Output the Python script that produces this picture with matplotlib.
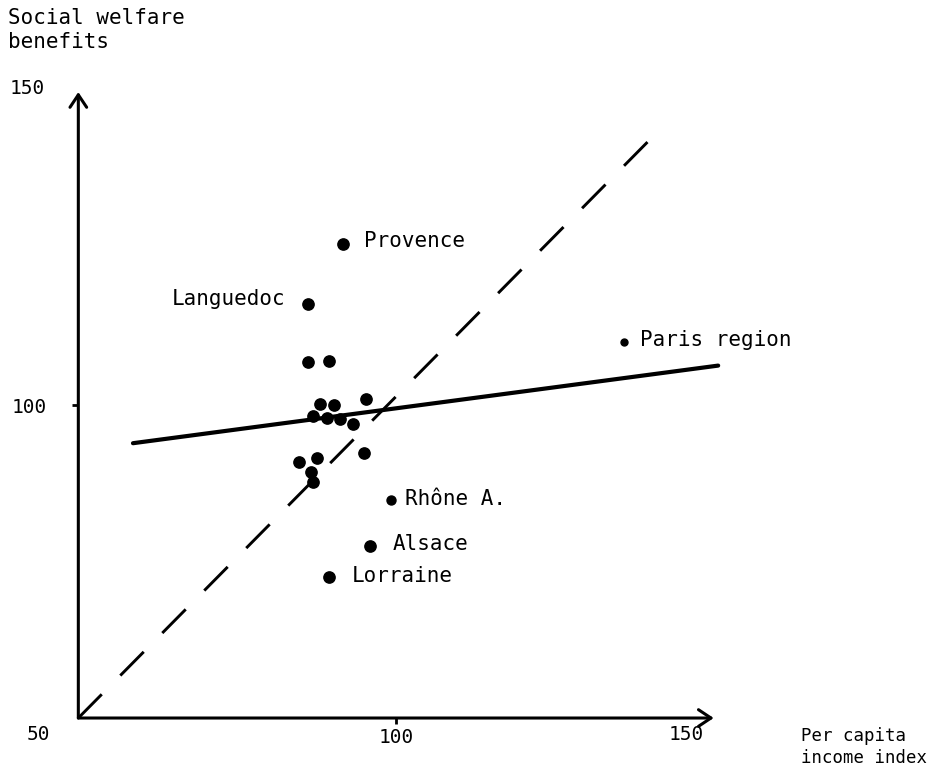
import matplotlib.pyplot as plt

plt.rcParams['font.family'] = ['DejaVu Sans Mono', 'DejaVu Sans']
plt.rcParams['lines.scale_dashes'] = False

# regions with a name printed next to them
named_regions = ['Provence', 'Languedoc', 'Paris region', 'Rhône A.', 'Alsace', 'Lorraine']
named_income = [91.7, 86.2, 135.9, 99.2, 95.9, 89.5]
named_welfare = [125.8, 116.2, 110.1, 84.8, 77.5, 72.5]

# remaining regions (unlabelled)
other_income = [86.2, 89.5, 88.0, 90.3, 95.3, 86.9, 89.1, 91.2, 93.3, 94.9, 84.8, 87.5, 86.6, 87.0]
other_welfare = [106.9, 107.1, 100.2, 100.0, 101.0, 98.2, 98.0, 97.7, 97.0, 92.4, 90.9, 91.5, 89.3, 87.7]

# fitted line and the equality diagonal
fit_x = [58.6, 150.7]
fit_y = [93.9, 106.3]
diag_x = [50, 142]
diag_y = [50, 144.5]

# label placement: (dx, dy) in points, alignment
label_style = {
    'Provence': (15, 2, 'left'),
    'Languedoc': (-16.5, 3, 'right'),
    'Paris region': (11.5, 1, 'left'),
    'Rhône A.': (10, 1, 'left'),
    'Alsace': (16, 1.5, 'left'),
    'Lorraine': (16, 1, 'left'),
}
dot_size = {'Paris region': 25, 'Rhône A.': 42}

fig = plt.figure(figsize=(9.28, 7.78), dpi=100)
ax = fig.add_axes([0.0844, 0.0771, 0.6847, 0.8046])
ax.set_xlim(50, 150)
ax.set_ylim(50, 150)
for s in ax.spines.values():
    s.set_visible(False)

# axes drawn as arrows
arrow = dict(arrowstyle='->,head_length=0.45,head_width=0.3', lw=2.2,
             color='black', shrinkA=0, shrinkB=0, mutation_scale=20)
ax.annotate('', xy=(150, 50), xytext=(50, 50), arrowprops=arrow, annotation_clip=False)
ax.annotate('', xy=(50, 150), xytext=(50, 50), arrowprops=arrow, annotation_clip=False)

ax.set_xticks([100])
ax.set_yticks([100])
ax.tick_params(length=4, width=2, labelsize=14, direction='out')
ax.tick_params(axis='x', pad=3)
ax.tick_params(axis='y', pad=19)
ax.text(43.7, 47.3, '50', fontsize=14, ha='center', va='center')
ax.text(145.7, 47.3, '150', fontsize=14, ha='center', va='center')
ax.text(41.9, 150.5, '150', fontsize=14, ha='center', va='center')

ax.plot(diag_x, diag_y, color='black', lw=2.1, dashes=(24, 19), clip_on=False)
ax.plot(fit_x, fit_y, color='black', lw=3, solid_capstyle='round', clip_on=False)

ax.scatter(other_income, other_welfare, s=66, color='black', zorder=3)
for name, x, y in zip(named_regions, named_income, named_welfare):
    ax.scatter([x], [y], s=dot_size.get(name, 66), color='black', zorder=3)
    dx, dy, ha = label_style[name]
    ax.annotate(name, (x, y), xytext=(dx, dy), textcoords='offset points',
                ha=ha, va='center', fontsize=15)

fig.text(8 / 928, 1 - 8 / 778, 'Social welfare\nbenefits', fontsize=15,
         ha='left', va='top', linespacing=1.25)
fig.text(801 / 928, 1 - 727 / 778, 'Per capita\nincome index', fontsize=12.5,
         ha='left', va='top', linespacing=1.3)

fig.savefig('out.png', dpi=100, facecolor='white')
